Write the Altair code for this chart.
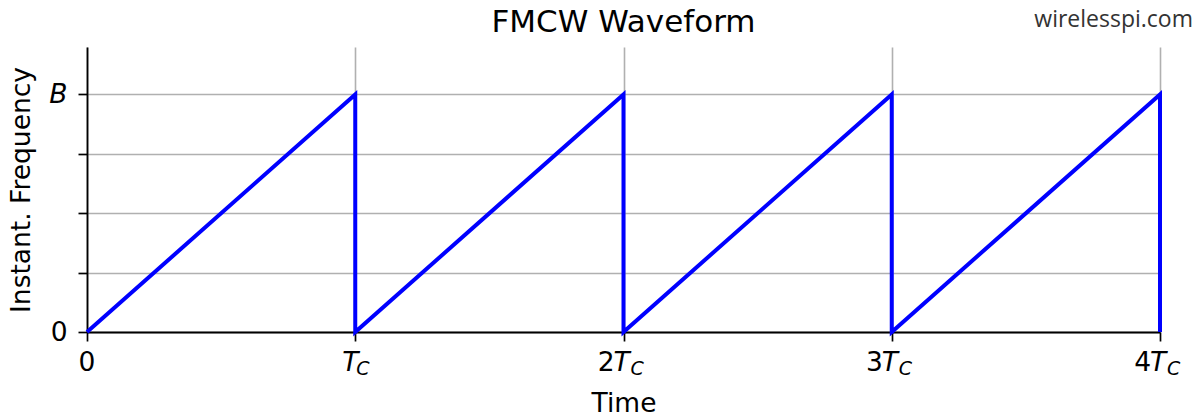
import altair as alt
import pandas as pd

# Sawtooth chirp: instantaneous frequency ramps 0 -> B over each chirp period T_C
t_points = [0, 1, 1, 2, 2, 3, 3, 4, 4]
f_points = [0, 1, 0, 1, 0, 1, 0, 1, 0]

# Axis ticks and their labels
y_ticks = [0, 0.25, 0.5, 0.75, 1.0]
x_ticks = [0, 1, 2, 3, 4]
x_coef = ["0", "", "2", "3", "4"]
x_sym = ["", "T", "T", "T", "T"]
x_sub = ["", "C", "C", "C", "C"]

title_text = ["FMCW Waveform"]
site_text = ["wirelesspi.com"]

FONT = "DejaVu Sans"
FS = 26.5      # tick labels and axis titles
W, H = 1073, 285

wave = pd.DataFrame({"t": t_points, "f": f_points, "step": list(range(len(t_points)))})
xlab = pd.DataFrame({"tick": x_ticks, "coef": x_coef, "sym": x_sym, "sub": x_sub})

x_scale = alt.Scale(domain=[0, 4], nice=False, zero=False)
y_scale = alt.Scale(domain=[0, 1.2], nice=False, zero=False)

x_axis = alt.Axis(
    values=x_ticks, labels=False, grid=True, gridColor="#b0b0b0", gridWidth=1.6,
    domainColor="black", domainWidth=1.8, tickColor="black", tickWidth=1.7, tickSize=9,
    title="Time", titleFont=FONT, titleFontSize=FS, titleFontWeight="normal",
    titleColor="black", titleBaseline="alphabetic", titleY=79,
)
y_axis = alt.Axis(
    values=y_ticks, grid=True, gridColor="#b0b0b0", gridWidth=1.6,
    domainColor="black", domainWidth=1.8, tickColor="black", tickWidth=1.7, tickSize=9,
    labelExpr="datum.value == 1 ? 'B' : (datum.value == 0 ? '0' : '')",
    labelFont=FONT, labelFontSize=FS, labelColor="black", labelPadding=11,
    labelFontStyle={"condition": {"test": "datum.value == 1", "value": "italic"}, "value": "normal"},
    title="Instant. Frequency", titleFont=FONT, titleFontSize=FS, titleFontWeight="normal",
    titleColor="black", titleBaseline="alphabetic", titleAlign="center",
    titleX=-58, titleY=H / 2,
)

line = alt.Chart(wave).mark_line(color="#0000ff", strokeWidth=4).encode(
    x=alt.X("t:Q", scale=x_scale, axis=x_axis, title="Time"),
    y=alt.Y("f:Q", scale=y_scale, axis=y_axis, title="Instant. Frequency"),
    order=alt.Order("step:Q"),
)

# Tick labels of the time axis: coefficient, italic T and subscript C
base = alt.Chart(xlab).encode(
    x=alt.X("tick:Q", scale=x_scale, title="Time"),
    y=alt.datum(0),
)
txt = dict(font=FONT, fontSize=FS, baseline="alphabetic", color="black", dy=39)
sub = dict(font=FONT, fontSize=19, baseline="alphabetic", color="black", dy=43,
           fontStyle="italic", align="left")

lab_zero = base.transform_filter("datum.tick == 0").mark_text(align="center", **txt).encode(text="coef:N")
lab_coef = base.transform_filter("datum.tick >= 2").mark_text(align="right", dx=-9, **txt).encode(text="coef:N")
lab_t_k = base.transform_filter("datum.tick >= 2").mark_text(align="left", dx=-10, fontStyle="italic", **txt).encode(text="sym:N")
lab_c_k = base.transform_filter("datum.tick >= 2").mark_text(dx=7, **sub).encode(text="sub:N")
lab_t_1 = base.transform_filter("datum.tick == 1").mark_text(align="left", dx=-13, fontStyle="italic", **txt).encode(text="sym:N")
lab_c_1 = base.transform_filter("datum.tick == 1").mark_text(dx=1, **sub).encode(text="sub:N")

heading = alt.Chart(pd.DataFrame({"label": title_text})).mark_text(
    font=FONT, fontSize=31, align="center", baseline="alphabetic", color="black"
).encode(x=alt.value(W / 2), y=alt.value(-15), text="label:N")

mark_site = alt.Chart(pd.DataFrame({"site": site_text})).mark_text(
    font="Open Sans", fontSize=23, align="right", baseline="alphabetic", color="#333333"
).encode(x=alt.value(W + 33), y=alt.value(-20), text="site:N")

chart = alt.layer(
    line, lab_zero, lab_coef, lab_t_k, lab_c_k, lab_t_1, lab_c_1, heading, mark_site
).properties(
    width=W, height=H,
    autosize=alt.AutoSizeParams(type="none"),
    padding={"left": 87, "top": 47, "right": 41, "bottom": 85},
    background="white",
).configure_view(stroke=None)

chart.save("out.html", embed_options={"renderer": "svg", "actions": False})
